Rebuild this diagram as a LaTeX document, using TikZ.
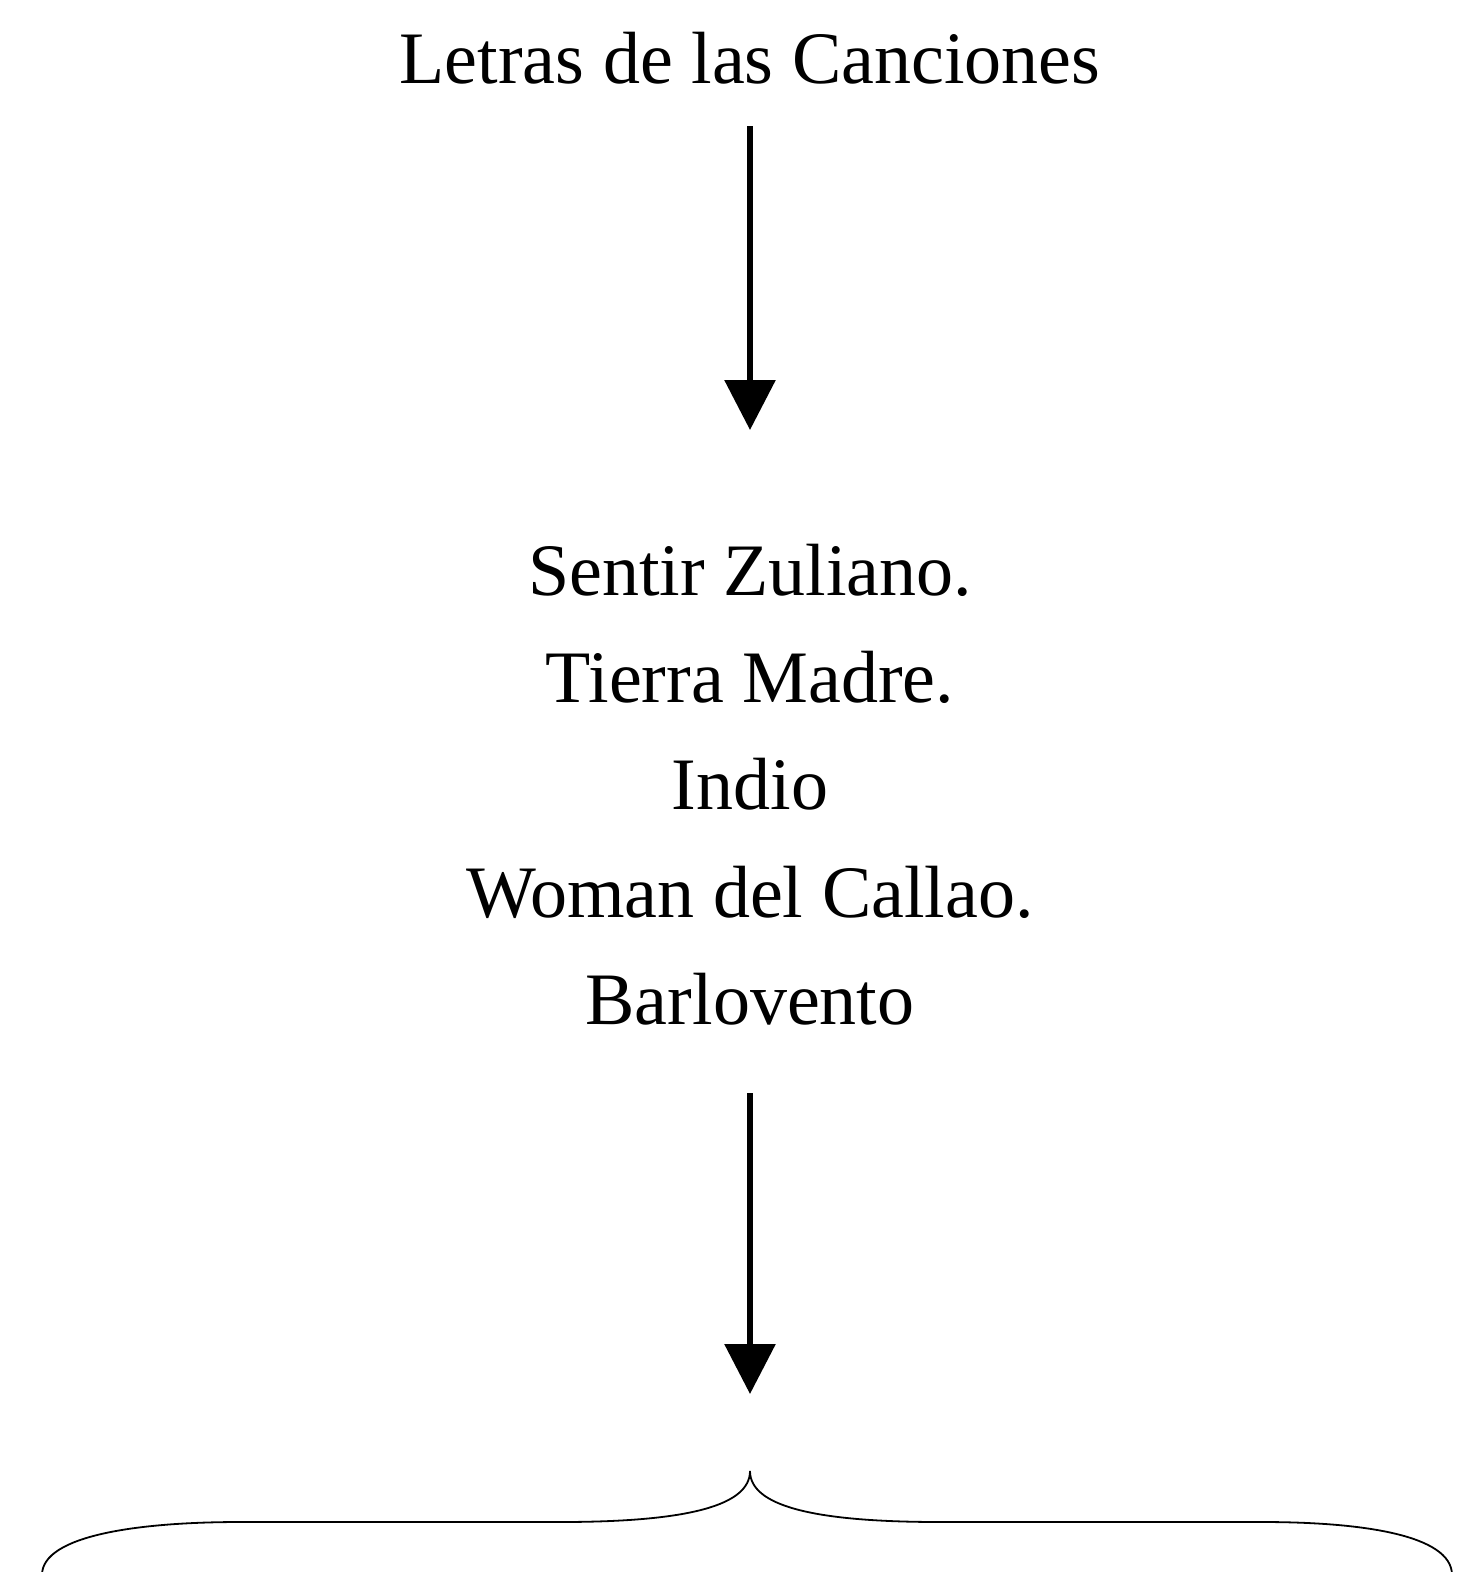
\documentclass[tikz,border=0pt]{standalone}
\usepackage{fontspec}
\setmainfont{Liberation Serif}
\usetikzlibrary{arrows.meta}
\begin{document}
\begin{tikzpicture}[x=1pt,y=-1pt,
  lbl/.style={anchor=base,inner sep=0pt,font=\fontsize{74}{90}\selectfont},
  flow/.style={line width=6pt,-{Triangle[length=50pt,width=50pt]}},
  brace/.style={line width=1.8pt}]
\useasboundingbox (0,0) rectangle (1472,1572);
\node[lbl] (title) at (750,83) {Letras de las Canciones};
\node[lbl] (s1) at (750,595) {Sentir Zuliano.};
\node[lbl] (s2) at (750,702) {Tierra Madre.};
\node[lbl] (s3) at (750,809) {Indio};
\node[lbl] (s4) at (750,917) {Woman del Callao.};
\node[lbl] (s5) at (750,1024) {Barlovento};
\coordinate (a1s) at (750,126);
\coordinate (a1e) at (750,430);
\coordinate (a2s) at (750,1093);
\coordinate (a2e) at (750,1394);
\draw[flow] (a1s) -- (a1e);
\draw[flow] (a2s) -- (a2e);
\coordinate (peak) at (750,1471);
\draw[brace] (42,1575) .. controls (42,1535) and (140,1522) .. (240,1522)
  -- (560,1522) .. controls (690,1522) and (750,1505) .. (peak)
  .. controls (750,1505) and (810,1522) .. (940,1522)
  -- (1262,1522) .. controls (1362,1522) and (1452,1535) .. (1452,1575);
\end{tikzpicture}
\end{document}
